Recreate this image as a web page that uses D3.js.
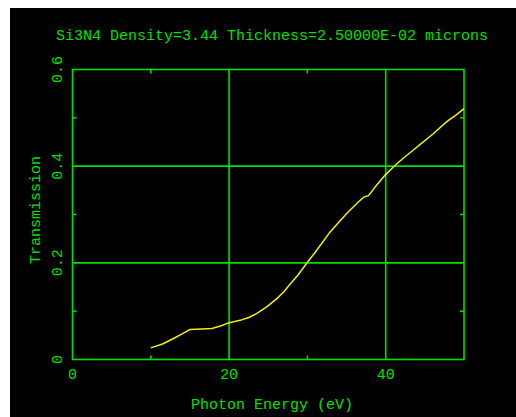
<!DOCTYPE html>
<html>
<head>
<meta charset="utf-8">
<script src="https://cdn.jsdelivr.net/npm/d3@7/dist/d3.min.js"></script>
<style>
  html, body { margin: 0; padding: 0; background: #fff; }
  svg { display: block; }
  text { font-family: "Liberation Mono", "DejaVu Sans Mono", monospace; fill: #00e000; }
</style>
</head>
<body>
<script>
// Transmission of a 25 nm Si3N4 film versus photon energy
const energy = [10, 11.5, 12.9, 14.0, 15.0, 16.5, 17.8, 19.0, 19.9, 21.4, 22.5, 23.5, 24.8, 26.1, 27.0, 27.7,
                28.8, 29.9, 31.0, 32.9, 34.0, 35.2, 36.5, 37.2, 37.8, 38.8, 39.9, 41.2, 42.5, 43.5, 44.4,
                46.0, 47.8, 49.0, 50];
const transmission = [0.024, 0.032, 0.0435, 0.053, 0.062, 0.063, 0.064, 0.070, 0.0757, 0.081, 0.087, 0.095, 0.109, 0.126, 0.140, 0.154,
                      0.175, 0.199, 0.222, 0.264, 0.284, 0.305, 0.326, 0.336, 0.339, 0.360, 0.381, 0.402, 0.420, 0.433, 0.445,
                      0.466, 0.492, 0.506, 0.519];

const majorX = [0, 20, 40];
const minorX = [10, 30];
const majorY = [0, 0.2, 0.4, 0.6];
const minorY = [0.1, 0.3, 0.5];

const titleText = "Si3N4 Density=3.44 Thickness=2.50000E-02 microns";
const xTitle = "Photon Energy (eV)";
const yTitle = "Transmission";

(function () {
  const W = 516, H = 417;
  const green = "#00e000";
  const pl = 72.5, pr = 464, pt = 69.5, pb = 359.5;

  const svg = d3.select("body").append("svg").attr("width", W).attr("height", H);

  // black panel (white strip on the left and top)
  svg.append("rect").attr("x", 10).attr("y", 8).attr("width", W - 10).attr("height", H - 8).attr("fill", "#000");

  const x = d3.scaleLinear().domain([0, 50]).range([pl, pr]);
  const y = d3.scaleLinear().domain([0, 0.6]).range([pb, pt]);

  const g = svg.append("g");

  // grid lines at the major ticks
  g.selectAll(".gx").data(majorX.filter(v => v > 0)).join("line")
    .attr("x1", d => x(d)).attr("x2", d => x(d)).attr("y1", pt).attr("y2", pb)
    .attr("stroke", green).attr("stroke-width", 1.6);
  g.selectAll(".gy").data(majorY.filter(v => v > 0 && v < 0.6)).join("line")
    .attr("x1", pl).attr("x2", pr).attr("y1", d => y(d)).attr("y2", d => y(d))
    .attr("stroke", green).attr("stroke-width", 1.6);

  // frame
  g.append("rect").attr("x", pl).attr("y", pt).attr("width", pr - pl).attr("height", pb - pt)
    .attr("fill", "none").attr("stroke", green).attr("stroke-width", 1.6);

  // minor ticks, pointing inward on all four sides
  const tl = 4;
  minorX.forEach(v => {
    g.append("line").attr("x1", x(v)).attr("x2", x(v)).attr("y1", pb).attr("y2", pb - tl).attr("stroke", green).attr("stroke-width", 1.5);
    g.append("line").attr("x1", x(v)).attr("x2", x(v)).attr("y1", pt).attr("y2", pt + tl).attr("stroke", green).attr("stroke-width", 1.5);
  });
  minorY.forEach(v => {
    g.append("line").attr("x1", pl).attr("x2", pl + tl).attr("y1", y(v)).attr("y2", y(v)).attr("stroke", green).attr("stroke-width", 1.5);
    g.append("line").attr("x1", pr).attr("x2", pr - tl).attr("y1", y(v)).attr("y2", y(v)).attr("stroke", green).attr("stroke-width", 1.5);
  });

  // tick labels
  g.selectAll(".xl").data(majorX).join("text")
    .attr("x", d => x(d)).attr("y", 379).attr("text-anchor", "middle")
    .attr("font-size", 15).text(d => d3.format("d")(d));
  g.selectAll(".yl").data(majorY).join("text")
    .attr("transform", d => `translate(62,${y(d)}) rotate(-90)`).attr("text-anchor", "middle")
    .attr("font-size", 15).text(d => d === 0 ? "0" : d3.format(".1f")(d));

  // titles
  svg.append("text").attr("x", 272).attr("y", 40).attr("text-anchor", "middle")
    .attr("font-size", 15).text(titleText);
  svg.append("text").attr("x", 272).attr("y", 409).attr("text-anchor", "middle")
    .attr("font-size", 15).text(xTitle);
  svg.append("text").attr("transform", "translate(39.5,210) rotate(-90)").attr("text-anchor", "middle")
    .attr("font-size", 15).text(yTitle);

  // transmission curve
  const line = d3.line().x((d, i) => x(energy[i])).y(d => y(d));
  g.append("path").datum(transmission).attr("d", line)
    .attr("fill", "none").attr("stroke", "#f0f000").attr("stroke-width", 1.5);
})();
</script>
</body>
</html>
